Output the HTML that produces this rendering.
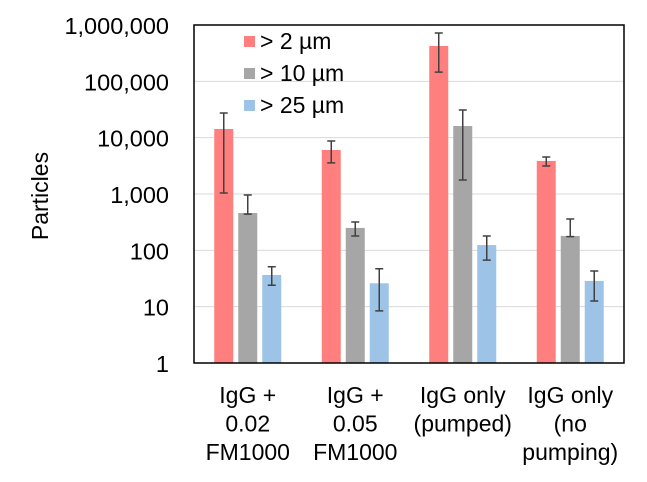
<!DOCTYPE html>
<html><head><meta charset="utf-8"><style>
body{margin:0;background:#fff;}
svg text{font-family:"Liberation Sans",Arial,sans-serif;fill:#000;}
</style></head><body>
<svg id="chart" width="647" height="477"></svg>
<script>
const categories=[["IgG +","0.02","FM1000"],["IgG +","0.05","FM1000"],["IgG only","(pumped)"],["IgG only","(no","pumping)"]];
const seriesNames=["> 2 µm","> 10 µm","> 25 µm"];
const colors=["#ff7f7f","#a6a6a6","#9dc3e6"];
const s2=[14250,6040,424000,3860];
const s10=[460,250,16100,180];
const s25=[36.5,26,124,28.6];
const hi2=[27400,8730,721000,4540];
const lo2=[1040,3560,146000,3140];
const hi10=[960,318,31000,360];
const lo10=[440,180,1770,175];
const hi25=[51,47,180,43];
const lo25=[24,8.4,67,12.6];
const tickVals=[1,10,100,1000,10000,100000,1000000];
const tickLabels=["1","10","100","1,000","10,000","100,000","1,000,000"];

const NS="http://www.w3.org/2000/svg";
const svg=document.getElementById('chart');
const L=194,R=624,T=25,B=363;
function y(v){return B-(Math.log10(v)/6)*(B-T);}
const gw=(R-L)/4;
function xc(i,s){return L+gw*(i+0.5)+(s-1)*24;}
function mk(t,a){const e=document.createElementNS(NS,t);for(const k in a)e.setAttribute(k,a[k]);svg.appendChild(e);return e;}
tickVals.forEach((v,i)=>{
 if(i>0&&i<6){const g=mk('line',{x1:L,x2:R,y1:y(v),y2:y(v),stroke:'#d9d9d9','stroke-width':1});
 
 }
 const t=mk('text',{x:169,y:y(v)+9,'text-anchor':'end','font-size':23.5});
 t.textContent=tickLabels[i];
 
 
});
const vals=[s2,s10,s25],his=[hi2,hi10,hi25],los=[lo2,lo10,lo25];
for(let s=0;s<3;s++)for(let i=0;i<4;i++){
 const cx=xc(i,s);
 const b=mk('rect',{x:cx-9.5,y:y(vals[s][i]),width:19,height:B-y(vals[s][i]),fill:colors[s]});
 
 
 const yh=y(his[s][i]),yl=y(los[s][i]);
 const e=mk('path',{d:`M${cx},${yh}V${yl}M${cx-4},${yh}H${cx+4}M${cx-4},${yl}H${cx+4}`,stroke:'#404040','stroke-width':1.5,fill:'none'});
 
 
}
const f=mk('rect',{x:L,y:T,width:R-L,height:B-T,fill:'none',stroke:'#000','stroke-width':1.5});


categories.forEach((c,i)=>{c.forEach((ln,j)=>{
 const t=mk('text',{x:L+gw*(i+0.5),y:403+j*28.5,'text-anchor':'middle','font-size':23});
 t.textContent=ln;
 
 });});
const yt=mk('text',{x:48,y:196,'text-anchor':'middle','font-size':23,transform:'rotate(-90 48 196)'});
yt.textContent='Particles';


seriesNames.forEach((n,s)=>{
 const ly=42+s*32;
 const r=mk('rect',{x:244,y:ly-6,width:11,height:11,fill:colors[s]});
 
 
 const t=mk('text',{x:260,y:ly+7,'font-size':23});
 t.textContent=n;
 
 
});
</script>
</body></html>
